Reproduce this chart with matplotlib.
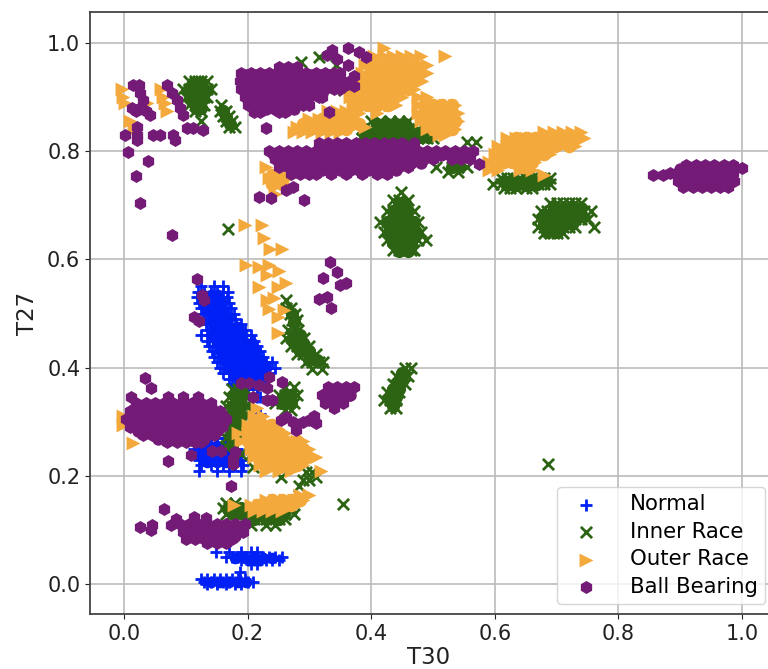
import matplotlib
matplotlib.use('Agg')
import matplotlib.pyplot as plt

# points, written as (T27, [T30 values]) rows
normal_rows = [
    (0.55, [0.125, 0.145, 0.16]),
    (0.54, [0.12, 0.13, 0.14, 0.15, 0.16, 0.168]),
    (0.53, [0.118, 0.128, 0.138, 0.148, 0.158, 0.166]),
    (0.52, [0.122, 0.132, 0.142, 0.152, 0.162, 0.17]),
    (0.51, [0.125, 0.135, 0.145, 0.155, 0.165, 0.173]),
    (0.50, [0.128, 0.138, 0.148, 0.158, 0.168, 0.178]),
    (0.49, [0.13, 0.14, 0.15, 0.16, 0.17, 0.18]),
    (0.48, [0.132, 0.142, 0.152, 0.162, 0.172, 0.182, 0.19]),
    (0.47, [0.135, 0.145, 0.155, 0.165, 0.175, 0.185, 0.195]),
    (0.46, [0.125, 0.137, 0.147, 0.157, 0.167, 0.177, 0.187, 0.197, 0.205]),
    (0.45, [0.135, 0.145, 0.155, 0.165, 0.175, 0.185, 0.195, 0.205, 0.21]),
    (0.44, [0.138, 0.148, 0.158, 0.168, 0.178, 0.188, 0.198, 0.208, 0.215]),
    (0.43, [0.142, 0.152, 0.162, 0.172, 0.182, 0.192, 0.202, 0.212, 0.22]),
    (0.42, [0.145, 0.155, 0.165, 0.175, 0.185, 0.195, 0.205, 0.215, 0.225]),
    (0.41, [0.15, 0.16, 0.17, 0.18, 0.19, 0.2, 0.21, 0.22, 0.23, 0.24]),
    (0.40, [0.155, 0.165, 0.175, 0.185, 0.195, 0.205, 0.215, 0.225, 0.235, 0.245]),
    (0.39, [0.16, 0.17, 0.18, 0.19, 0.2, 0.21, 0.22, 0.23, 0.235]),
    (0.38, [0.17, 0.18, 0.19, 0.2, 0.21, 0.22, 0.23]),
    (0.37, [0.175, 0.185, 0.195, 0.205, 0.215, 0.225]),
    (0.36, [0.185, 0.2, 0.215]),
    (0.345, [0.215, 0.22]),
    (0.315, [0.215, 0.22]),
    (0.27, [0.13, 0.14, 0.15, 0.165]),
    (0.26, [0.12, 0.13, 0.14, 0.15, 0.16, 0.17]),
    (0.25, [0.113, 0.123, 0.133, 0.143, 0.153, 0.163, 0.173, 0.183]),
    (0.24, [0.118, 0.128, 0.138, 0.148, 0.158, 0.168, 0.178, 0.188]),
    (0.23, [0.122, 0.132, 0.142, 0.152, 0.162, 0.172, 0.182, 0.19]),
    (0.22, [0.125, 0.14, 0.15, 0.16, 0.17, 0.18, 0.192]),
    (0.21, [0.122, 0.15, 0.17, 0.19]),
    (0.06, [0.149, 0.17, 0.19, 0.205, 0.215]),
    (0.05, [0.165, 0.175, 0.185, 0.195, 0.205, 0.215, 0.225, 0.235, 0.245, 0.255]),
    (0.045, [0.19, 0.2, 0.21, 0.22, 0.23, 0.24, 0.25]),
    (0.038, [0.205, 0.215]),
    (0.023, [0.187]),
    (0.01, [0.125, 0.135, 0.145, 0.155, 0.165, 0.175, 0.185, 0.195]),
    (0.005, [0.13, 0.14, 0.15, 0.16, 0.17, 0.18, 0.19, 0.2, 0.208]),
    (0.0, [0.135, 0.15, 0.165, 0.18, 0.19]),
]

# solid middle of the overplotted clusters
normal_core = [
    (0.535, [0.128, 0.14, 0.152]),
    (0.52, [0.13, 0.143, 0.157]),
    (0.505, [0.135, 0.148, 0.162]),
    (0.49, [0.14, 0.153, 0.168]),
    (0.475, [0.145, 0.158, 0.172, 0.185]),
    (0.46, [0.145, 0.16, 0.175, 0.19]),
    (0.445, [0.15, 0.165, 0.18, 0.195, 0.207]),
    (0.43, [0.155, 0.17, 0.185, 0.2, 0.213]),
    (0.415, [0.162, 0.177, 0.192, 0.207, 0.222]),
    (0.40, [0.17, 0.185, 0.2, 0.215, 0.23]),
    (0.385, [0.18, 0.195, 0.21, 0.225]),
    (0.37, [0.19, 0.205, 0.215]),
    (0.255, [0.135, 0.15, 0.165]),
    (0.24, [0.125, 0.14, 0.155, 0.17, 0.183]),
    (0.225, [0.135, 0.15, 0.165, 0.18]),
    (0.048, [0.18, 0.195, 0.21, 0.225, 0.24]),
    (0.005, [0.14, 0.155, 0.17, 0.185, 0.197]),
]

inner_rows = [
    (0.93, [0.105, 0.115, 0.125, 0.135]),
    (0.915, [0.095, 0.105, 0.115, 0.125, 0.135, 0.14]),
    (0.90, [0.1, 0.11, 0.12, 0.13, 0.135]),
    (0.885, [0.105, 0.115, 0.125, 0.13, 0.157]),
    (0.875, [0.115, 0.125, 0.155, 0.165]),
    (0.865, [0.16, 0.17]),
    (0.855, [0.125, 0.165, 0.175]),
    (0.845, [0.17, 0.18]),
    (0.965, [0.286]),
    (0.974, [0.316]),
    (0.959, [0.343]),
    (0.913, [0.356]),
    (0.855, [0.4, 0.415, 0.43, 0.445, 0.46]),
    (0.84, [0.385, 0.4, 0.415, 0.43, 0.445, 0.46, 0.475, 0.49]),
    (0.825, [0.385, 0.4, 0.415, 0.43, 0.445, 0.46, 0.475, 0.49, 0.5]),
    (0.817, [0.555, 0.57]),
    (0.77, [0.505, 0.53, 0.54, 0.555]),
    (0.762, [0.525, 0.54]),
    (0.725, [0.449]),
    (0.71, [0.435, 0.445, 0.46]),
    (0.69, [0.425, 0.435, 0.445, 0.455, 0.47]),
    (0.67, [0.415, 0.425, 0.435, 0.445, 0.455, 0.465, 0.475]),
    (0.65, [0.42, 0.43, 0.44, 0.45, 0.46, 0.47, 0.48]),
    (0.636, [0.425, 0.435, 0.445, 0.455, 0.465, 0.475, 0.488]),
    (0.618, [0.435, 0.445, 0.455, 0.465, 0.47]),
    (0.75, [0.61, 0.62, 0.63, 0.64, 0.65, 0.66, 0.67, 0.68, 0.69]),
    (0.74, [0.597, 0.61, 0.62, 0.63, 0.64, 0.65, 0.66, 0.67, 0.68, 0.69]),
    (0.732, [0.615, 0.625, 0.635, 0.65, 0.66]),
    (0.705, [0.69, 0.7, 0.71, 0.72, 0.73, 0.74]),
    (0.69, [0.675, 0.685, 0.695, 0.705, 0.715, 0.725, 0.735, 0.745, 0.755]),
    (0.675, [0.67, 0.68, 0.69, 0.7, 0.71, 0.72, 0.73, 0.74, 0.75]),
    (0.66, [0.67, 0.68, 0.69, 0.7, 0.71, 0.72, 0.73, 0.761]),
    (0.648, [0.68, 0.69, 0.7, 0.71]),
    (0.657, [0.169]),
    (0.525, [0.262]),
    (0.51, [0.262, 0.27]),
    (0.50, [0.268, 0.276]),
    (0.488, [0.272, 0.28]),
    (0.47, [0.265, 0.275, 0.282]),
    (0.455, [0.262, 0.272, 0.282, 0.292]),
    (0.44, [0.27, 0.28, 0.29, 0.3]),
    (0.425, [0.28, 0.29, 0.3, 0.31]),
    (0.41, [0.295, 0.305, 0.315, 0.322]),
    (0.398, [0.305, 0.32]),
    (0.40, [0.455, 0.465]),
    (0.385, [0.44, 0.45, 0.46]),
    (0.37, [0.435, 0.445, 0.455]),
    (0.355, [0.425, 0.435, 0.445]),
    (0.34, [0.42, 0.43, 0.44]),
    (0.325, [0.43, 0.44]),
    (0.36, [0.175, 0.185, 0.195]),
    (0.345, [0.17, 0.18, 0.19, 0.2]),
    (0.33, [0.165, 0.175, 0.185, 0.195, 0.2]),
    (0.315, [0.165, 0.175, 0.185, 0.195]),
    (0.30, [0.17, 0.18, 0.19]),
    (0.285, [0.17, 0.18, 0.19]),
    (0.27, [0.165, 0.175, 0.19]),
    (0.255, [0.165, 0.18, 0.2]),
    (0.24, [0.19, 0.205]),
    (0.365, [0.26, 0.275]),
    (0.35, [0.25, 0.26, 0.27, 0.28]),
    (0.335, [0.245, 0.255, 0.265, 0.275]),
    (0.322, [0.26, 0.27]),
    (0.217, [0.208]),
    (0.198, [0.254, 0.31]),
    (0.192, [0.289, 0.3]),
    (0.181, [0.283]),
    (0.208, [0.295, 0.305]),
    (0.148, [0.354]),
    (0.222, [0.686]),
    (0.15, [0.165, 0.18, 0.27]),
    (0.14, [0.16, 0.17, 0.18, 0.19, 0.26, 0.27]),
    (0.13, [0.165, 0.175, 0.185, 0.195, 0.21, 0.22, 0.23, 0.24, 0.25, 0.26, 0.275]),
    (0.12, [0.2, 0.21, 0.22, 0.23, 0.24, 0.25, 0.26]),
    (0.11, [0.205, 0.23, 0.245]),
]

inner_core = [
    (0.925, [0.112, 0.125]),
    (0.91, [0.105, 0.118, 0.13]),
    (0.895, [0.11, 0.122]),
    (0.88, [0.117, 0.125]),
    (0.875, [0.16]),
    (0.862, [0.165]),
    (0.85, [0.172]),
    (0.85, [0.41, 0.425, 0.44, 0.455]),
    (0.836, [0.395, 0.41, 0.425, 0.44, 0.455, 0.47, 0.483]),
    (0.826, [0.39, 0.405, 0.42, 0.435, 0.45, 0.465, 0.48, 0.492]),
    (0.77, [0.53, 0.54]),
    (0.705, [0.445, 0.455]),
    (0.69, [0.435, 0.45, 0.46]),
    (0.67, [0.425, 0.44, 0.455, 0.47]),
    (0.65, [0.428, 0.443, 0.458, 0.472]),
    (0.63, [0.435, 0.45, 0.465]),
    (0.615, [0.445, 0.46]),
    (0.745, [0.615, 0.63, 0.645, 0.66, 0.675, 0.685]),
    (0.737, [0.62, 0.635, 0.65, 0.665]),
    (0.695, [0.695, 0.71, 0.725, 0.74]),
    (0.68, [0.68, 0.695, 0.71, 0.725, 0.74]),
    (0.665, [0.68, 0.695, 0.71, 0.725]),
    (0.65, [0.685, 0.7]),
    (0.50, [0.272]),
    (0.485, [0.275]),
    (0.46, [0.275, 0.285]),
    (0.445, [0.275, 0.29]),
    (0.43, [0.285, 0.3]),
    (0.415, [0.3, 0.312]),
    (0.39, [0.45]),
    (0.375, [0.445, 0.45]),
    (0.36, [0.435, 0.445]),
    (0.345, [0.43, 0.44]),
    (0.33, [0.435]),
    (0.35, [0.18, 0.19, 0.26, 0.27]),
    (0.335, [0.255, 0.27]),
    (0.33, [0.175, 0.19]),
    (0.31, [0.175, 0.19]),
    (0.29, [0.175, 0.19]),
    (0.27, [0.175, 0.185]),
    (0.255, [0.175]),
    (0.14, [0.175, 0.19]),
    (0.13, [0.18, 0.195, 0.21, 0.225, 0.24, 0.255]),
    (0.12, [0.21, 0.23, 0.25]),
]

outer_rows = [
    (0.915, [-0.003, 0.06]),
    (0.90, [-0.002, 0.063]),
    (0.888, [0.002, 0.038, 0.066]),
    (0.875, [0.07]),
    (0.855, [0.01]),
    (0.84, [0.017]),
    (0.99, [0.42]),
    (0.975, [0.405, 0.42, 0.435, 0.45, 0.465, 0.48, 0.52]),
    (0.96, [0.39, 0.405, 0.42, 0.435, 0.45, 0.465, 0.48, 0.49]),
    (0.945, [0.385, 0.4, 0.415, 0.43, 0.445, 0.46, 0.475, 0.49]),
    (0.93, [0.38, 0.395, 0.41, 0.425, 0.44, 0.455, 0.47, 0.482]),
    (0.915, [0.37, 0.385, 0.4, 0.415, 0.43, 0.445, 0.46, 0.47]),
    (0.90, [0.365, 0.38, 0.395, 0.41, 0.425, 0.44, 0.45, 0.475, 0.49]),
    (0.885, [0.37, 0.385, 0.4, 0.415, 0.43, 0.44, 0.475, 0.49, 0.505, 0.52, 0.535]),
    (0.87, [0.38, 0.41, 0.475, 0.49, 0.505, 0.52, 0.535, 0.54]),
    (0.855, [0.48, 0.495, 0.51, 0.525, 0.54]),
    (0.84, [0.49, 0.505, 0.52, 0.535]),
    (0.83, [0.51, 0.52]),
    (0.875, [0.33, 0.345, 0.36, 0.375]),
    (0.86, [0.3, 0.315, 0.33, 0.345, 0.36, 0.375]),
    (0.845, [0.28, 0.295, 0.31, 0.325, 0.34, 0.355, 0.37, 0.39]),
    (0.835, [0.275, 0.29, 0.305, 0.32, 0.335, 0.35]),
    (0.835, [0.68, 0.695, 0.71, 0.725, 0.74]),
    (0.825, [0.62, 0.635, 0.65, 0.665, 0.68, 0.695, 0.71, 0.725, 0.745]),
    (0.81, [0.605, 0.62, 0.635, 0.65, 0.665, 0.68, 0.695, 0.71, 0.73]),
    (0.795, [0.6, 0.615, 0.63, 0.645, 0.66, 0.675, 0.69]),
    (0.78, [0.59, 0.605, 0.62, 0.635, 0.65, 0.665]),
    (0.765, [0.59, 0.605, 0.64, 0.66]),
    (0.755, [0.68]),
    (0.77, [0.23]),
    (0.75, [0.235, 0.265]),
    (0.74, [0.25]),
    (0.72, [0.245]),
    (0.664, [0.196, 0.224]),
    (0.64, [0.226]),
    (0.62, [0.236, 0.255]),
    (0.59, [0.197, 0.235]),
    (0.586, [0.219]),
    (0.571, [0.232]),
    (0.579, [0.251]),
    (0.549, [0.219, 0.249]),
    (0.556, [0.262]),
    (0.525, [0.232]),
    (0.528, [0.243]),
    (0.506, [0.259]),
    (0.509, [0.235]),
    (0.494, [0.249]),
    (0.464, [0.249]),
    (0.325, [0.215]),
    (0.31, [0.21, 0.225]),
    (0.295, [0.2, 0.215, 0.23, 0.245]),
    (0.28, [0.185, 0.2, 0.215, 0.23, 0.245, 0.26]),
    (0.265, [0.19, 0.205, 0.22, 0.235, 0.25, 0.265, 0.28, 0.29]),
    (0.25, [0.205, 0.22, 0.235, 0.25, 0.265, 0.28, 0.295, 0.3]),
    (0.235, [0.21, 0.225, 0.24, 0.255, 0.27, 0.285, 0.31]),
    (0.22, [0.22, 0.235, 0.25, 0.265, 0.28, 0.29]),
    (0.21, [0.23, 0.25, 0.27, 0.318]),
    (0.165, [0.285, 0.3]),
    (0.155, [0.23, 0.245, 0.26, 0.275, 0.29]),
    (0.147, [0.178, 0.205, 0.22, 0.235, 0.25, 0.265, 0.28]),
    (0.135, [0.21, 0.225, 0.24, 0.255]),
    (0.31, [-0.002]),
    (0.295, [-0.002]),
    (0.26, [0.014]),
]

outer_core = [
    (0.96, [0.41, 0.425, 0.44, 0.455, 0.47]),
    (0.945, [0.4, 0.415, 0.43, 0.445, 0.46, 0.475]),
    (0.93, [0.39, 0.405, 0.42, 0.435, 0.45, 0.465]),
    (0.915, [0.385, 0.4, 0.415, 0.43, 0.445, 0.46]),
    (0.90, [0.375, 0.39, 0.405, 0.42, 0.435]),
    (0.885, [0.38, 0.395, 0.41, 0.425, 0.485, 0.5, 0.515, 0.53]),
    (0.87, [0.485, 0.5, 0.515, 0.53]),
    (0.855, [0.49, 0.505, 0.52, 0.535]),
    (0.84, [0.5, 0.515, 0.53]),
    (0.86, [0.32, 0.335, 0.35, 0.365]),
    (0.85, [0.29, 0.305, 0.32, 0.335, 0.35, 0.365, 0.38]),
    (0.84, [0.285, 0.3, 0.315, 0.33, 0.345, 0.36]),
    (0.825, [0.635, 0.65, 0.665, 0.68, 0.695, 0.71, 0.73]),
    (0.81, [0.62, 0.635, 0.65, 0.665, 0.68, 0.695, 0.72]),
    (0.795, [0.61, 0.625, 0.64, 0.655, 0.67, 0.68]),
    (0.78, [0.6, 0.615, 0.63, 0.645, 0.66]),
    (0.77, [0.6, 0.645]),
    (0.755, [0.24, 0.25]),
    (0.74, [0.24, 0.255]),
    (0.295, [0.21, 0.225, 0.24]),
    (0.28, [0.2, 0.215, 0.23, 0.245, 0.25]),
    (0.265, [0.2, 0.215, 0.23, 0.245, 0.26, 0.28]),
    (0.25, [0.215, 0.23, 0.245, 0.26, 0.275, 0.29]),
    (0.235, [0.22, 0.235, 0.25, 0.265, 0.28, 0.295]),
    (0.22, [0.23, 0.245, 0.26, 0.28]),
    (0.155, [0.24, 0.255, 0.27, 0.285]),
    (0.147, [0.215, 0.23, 0.245, 0.26, 0.27]),
]

ball_rows = [
    (0.922, [0.015, 0.025, 0.07]),
    (0.908, [0.026, 0.078]),
    (0.895, [0.031, 0.085]),
    (0.88, [0.013, 0.026, 0.09]),
    (0.867, [0.042, 0.095]),
    (0.875, [0.02, 0.035]),
    (0.845, [0.021]),
    (0.83, [0.002, 0.021, 0.047, 0.058, 0.079]),
    (0.821, [0.021, 0.083]),
    (0.843, [0.102, 0.112]),
    (0.839, [0.128]),
    (0.799, [0.006]),
    (0.782, [0.039]),
    (0.754, [0.019]),
    (0.704, [0.026]),
    (0.645, [0.078]),
    (0.955, [0.25, 0.265, 0.28]),
    (0.945, [0.19, 0.205, 0.22, 0.235, 0.25, 0.265, 0.28, 0.295, 0.31, 0.325, 0.34, 0.35]),
    (0.93, [0.188, 0.203, 0.218, 0.233, 0.248, 0.263, 0.278, 0.293, 0.308, 0.323, 0.338, 0.353, 0.365]),
    (0.915, [0.19, 0.205, 0.22, 0.235, 0.25, 0.265, 0.28, 0.295, 0.31, 0.325, 0.34, 0.35]),
    (0.90, [0.195, 0.21, 0.225, 0.24, 0.255, 0.27, 0.285, 0.3, 0.315, 0.321]),
    (0.885, [0.2, 0.215, 0.23, 0.245, 0.26, 0.275, 0.29, 0.3]),
    (0.872, [0.21, 0.22, 0.25, 0.26, 0.332]),
    (0.842, [0.23]),
    (0.92, [0.372]),
    (0.939, [0.372]),
    (0.959, [0.362]),
    (0.974, [0.391]),
    (0.983, [0.38]),
    (0.991, [0.362]),
    (0.986, [0.337]),
    (0.977, [0.329]),
    (0.971, [0.345]),
    (0.815, [0.315, 0.33, 0.345, 0.36, 0.375, 0.39, 0.405, 0.42, 0.435, 0.45, 0.47]),
    (0.80, [0.235, 0.25, 0.265, 0.28, 0.295, 0.31, 0.325, 0.34, 0.355, 0.37, 0.385, 0.4, 0.415, 0.43, 0.445, 0.46, 0.475, 0.49, 0.505, 0.52, 0.535, 0.55, 0.565]),
    (0.785, [0.245, 0.26, 0.275, 0.29, 0.305, 0.32, 0.335, 0.35, 0.365, 0.38, 0.395, 0.41, 0.425, 0.44, 0.455, 0.47, 0.485, 0.5, 0.53, 0.545, 0.56]),
    (0.77, [0.25, 0.265, 0.28, 0.295, 0.31, 0.325, 0.34, 0.355, 0.37, 0.385, 0.4, 0.415, 0.43, 0.445, 0.46]),
    (0.757, [0.27, 0.285, 0.3, 0.31, 0.335, 0.36, 0.385, 0.41, 0.425]),
    (0.776, [0.575]),
    (0.716, [0.219]),
    (0.713, [0.238]),
    (0.728, [0.262]),
    (0.734, [0.273]),
    (0.71, [0.292]),
    (0.775, [0.91, 0.925, 0.94, 0.955, 0.97, 0.985]),
    (0.768, [1.0]),
    (0.76, [0.883, 0.895, 0.91, 0.925, 0.94, 0.955, 0.97, 0.985]),
    (0.756, [0.856, 0.872]),
    (0.745, [0.897, 0.912, 0.927, 0.942, 0.957, 0.972, 0.987]),
    (0.733, [0.905, 0.92, 0.935, 0.95, 0.965, 0.977]),
    (0.596, [0.333]),
    (0.576, [0.344]),
    (0.565, [0.322]),
    (0.553, [0.349]),
    (0.556, [0.359]),
    (0.527, [0.315]),
    (0.531, [0.328]),
    (0.51, [0.335]),
    (0.563, [0.118]),
    (0.534, [0.126]),
    (0.525, [0.129]),
    (0.494, [0.114]),
    (0.487, [0.122]),
    (0.365, [0.33, 0.345, 0.36, 0.372]),
    (0.35, [0.32, 0.335, 0.35, 0.365]),
    (0.335, [0.325, 0.34, 0.355]),
    (0.325, [0.34]),
    (0.371, [0.189, 0.203]),
    (0.368, [0.219]),
    (0.383, [0.235]),
    (0.362, [0.232]),
    (0.346, [0.208]),
    (0.34, [0.232, 0.24]),
    (0.374, [0.255]),
    (0.309, [0.262]),
    (0.303, [0.254, 0.3]),
    (0.30, [0.273, 0.289]),
    (0.31, [0.308]),
    (0.297, [0.31]),
    (0.284, [0.279]),
    (0.381, [0.034]),
    (0.363, [0.043]),
    (0.346, [0.011, 0.072, 0.095, 0.119]),
    (0.335, [0.02, 0.035, 0.05, 0.065, 0.08, 0.095, 0.11, 0.125, 0.14]),
    (0.32, [0.01, 0.025, 0.04, 0.055, 0.07, 0.085, 0.1, 0.115, 0.13, 0.145, 0.155]),
    (0.305, [0.003, 0.018, 0.033, 0.048, 0.063, 0.078, 0.093, 0.108, 0.123, 0.138, 0.153, 0.165]),
    (0.29, [0.01, 0.025, 0.04, 0.055, 0.07, 0.085, 0.1, 0.115, 0.13, 0.145, 0.158]),
    (0.275, [0.03, 0.045, 0.06, 0.075, 0.09, 0.105, 0.12, 0.135, 0.145]),
    (0.262, [0.07, 0.085, 0.1, 0.115, 0.125]),
    (0.228, [0.072]),
    (0.238, [0.109]),
    (0.246, [0.143, 0.157]),
    (0.244, [0.18]),
    (0.223, [0.176]),
    (0.232, [0.176]),
    (0.182, [0.173]),
    (0.139, [0.064]),
    (0.105, [0.026]),
    (0.109, [0.046, 0.076]),
    (0.10, [0.044]),
    (0.121, [0.084]),
    (0.124, [0.114]),
    (0.122, [0.133]),
    (0.112, [0.09, 0.105, 0.12, 0.135, 0.15, 0.165, 0.18, 0.195]),
    (0.097, [0.095, 0.11, 0.125, 0.14, 0.155, 0.17, 0.185, 0.192]),
    (0.083, [0.1, 0.115, 0.13, 0.145, 0.16, 0.175]),
    (0.076, [0.135, 0.15, 0.165]),
]

ball_core = [
    (0.94, [0.197, 0.212, 0.227, 0.242, 0.257, 0.272, 0.287, 0.302, 0.317, 0.332]),
    (0.923, [0.196, 0.211, 0.226, 0.241, 0.256, 0.271, 0.286, 0.301, 0.316, 0.331, 0.346, 0.358]),
    (0.907, [0.202, 0.217, 0.232, 0.247, 0.262, 0.277, 0.292, 0.307, 0.32]),
    (0.892, [0.207, 0.222, 0.237, 0.252, 0.267, 0.282, 0.295]),
    (0.878, [0.215, 0.23, 0.245, 0.26, 0.275]),
    (0.808, [0.32, 0.335, 0.35, 0.365, 0.38, 0.395, 0.41, 0.425, 0.44, 0.455]),
    (0.793, [0.243, 0.258, 0.273, 0.288, 0.303, 0.318, 0.333, 0.348, 0.363, 0.378, 0.393, 0.408, 0.423, 0.438, 0.453, 0.468, 0.483, 0.498, 0.513, 0.528, 0.543, 0.558]),
    (0.778, [0.255, 0.27, 0.285, 0.3, 0.315, 0.33, 0.345, 0.36, 0.375, 0.39, 0.405, 0.42, 0.435, 0.45, 0.465, 0.48]),
    (0.765, [0.275, 0.29, 0.305, 0.32, 0.335, 0.35, 0.365, 0.38, 0.395, 0.41, 0.425, 0.44]),
    (0.767, [0.9, 0.915, 0.93, 0.945, 0.96, 0.975, 0.985]),
    (0.752, [0.903, 0.918, 0.933, 0.948, 0.963, 0.978]),
    (0.74, [0.91, 0.925, 0.94, 0.955, 0.97]),
    (0.35, [0.335, 0.35, 0.365]),
    (0.328, [0.02, 0.035, 0.05, 0.065, 0.08, 0.095, 0.11, 0.125, 0.14]),
    (0.313, [0.012, 0.027, 0.042, 0.057, 0.072, 0.087, 0.102, 0.117, 0.132, 0.147, 0.158]),
    (0.298, [0.012, 0.027, 0.042, 0.057, 0.072, 0.087, 0.102, 0.117, 0.132, 0.147, 0.16]),
    (0.283, [0.022, 0.037, 0.052, 0.067, 0.082, 0.097, 0.112, 0.127, 0.142, 0.15]),
    (0.269, [0.055, 0.07, 0.085, 0.1, 0.115, 0.13]),
    (0.105, [0.098, 0.113, 0.128, 0.143, 0.158, 0.173, 0.188]),
    (0.09, [0.105, 0.12, 0.135, 0.15, 0.165, 0.18]),
]

labels = ['Normal', 'Inner Race', 'Outer Race', 'Ball Bearing']
ticks = [0.0, 0.2, 0.4, 0.6, 0.8, 1.0]


def flatten(rows):
    xs = []
    ys = []
    for y, row in rows:
        for x in row:
            xs.append(x)
            ys.append(y)
    return xs, ys


fig = plt.figure(figsize=(7.68, 6.69), dpi=100)
ax = fig.add_axes([90 / 768, 1 - 614 / 669, 678 / 768, 602 / 669])

x, y = flatten(normal_rows)
ax.scatter(x, y, marker='+', s=75, c='#0020f5', linewidths=2, label=labels[0], zorder=3)
x, y = flatten(normal_core)
ax.scatter(x, y, marker='o', s=70, c='#0020f5', linewidths=0, zorder=3)

x, y = flatten(inner_rows)
ax.scatter(x, y, marker='x', s=65, c='#2c6414', linewidths=2, label=labels[1], zorder=3)
x, y = flatten(inner_core)
ax.scatter(x, y, marker='o', s=90, c='#2c6414', linewidths=0, zorder=3)

x, y = flatten(outer_rows)
ax.scatter(x, y, marker='>', s=100, c='#f3a93c', linewidths=0, label=labels[2], zorder=3)
x, y = flatten(outer_core)
ax.scatter(x, y, marker='o', s=95, c='#f3a93c', linewidths=0, zorder=3)

x, y = flatten(ball_rows)
ax.scatter(x, y, marker='h', s=88, c='#741b77', linewidths=0, label=labels[3], zorder=3)
x, y = flatten(ball_core)
ax.scatter(x, y, marker='o', s=80, c='#741b77', linewidths=0, zorder=3)

ax.set_xlim(-0.055, 1.042)
ax.set_ylim(-0.055, 1.057)
ax.set_xticks(ticks)
ax.set_yticks(ticks)
ax.tick_params(labelsize=15, colors='#222222')
ax.grid(True, color='#bbbbbb', linewidth=1.2)
ax.set_axisbelow(True)
ax.spines['right'].set_visible(False)
for side in ['left', 'top', 'bottom']:
    ax.spines[side].set_color('#444444')
    ax.spines[side].set_linewidth(1.3)
ax.set_xlabel('T30', fontsize=16.5, color='#222222', labelpad=2)
ax.set_ylabel('T27', fontsize=16.5, color='#222222', labelpad=6)
ax.legend(loc='lower right', bbox_to_anchor=(0.9956, 0.0166), fontsize=15.3,
          labelspacing=0.35, handletextpad=1.05, borderpad=0.35, borderaxespad=0)

plt.savefig('out.png', dpi=100)
